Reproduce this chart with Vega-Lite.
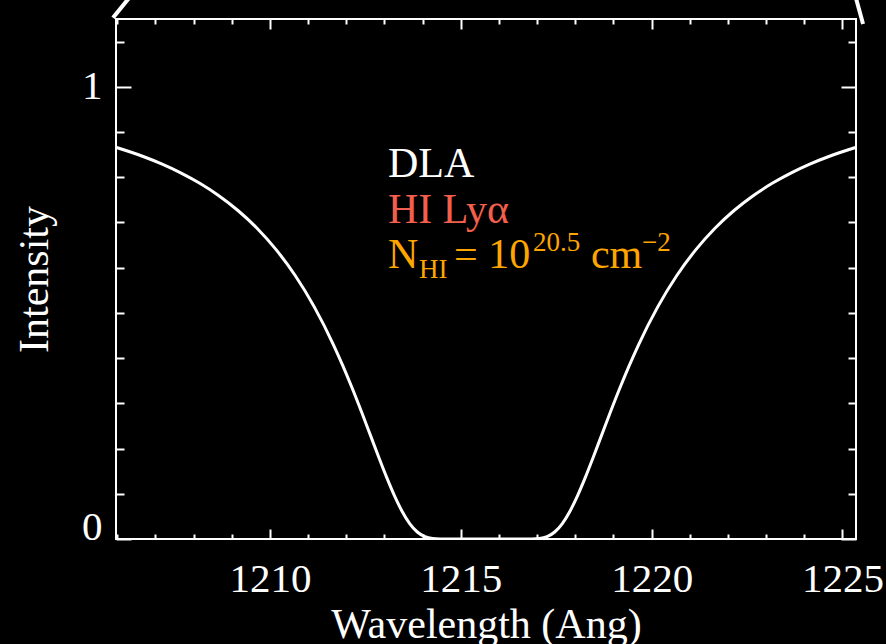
{
  "$schema": "https://vega.github.io/schema/vega-lite/v6.json",
  "width": 740,
  "height": 520,
  "autosize": {"type": "none"},
  "padding": {"left": 116, "top": 19, "right": 30, "bottom": 105},
  "background": "black",
  "config": {
    "view": {"stroke": "white", "strokeWidth": 2},
    "font": "Liberation Serif",
    "axis": {
      "domain": false, "grid": false,
      "labelColor": "white", "titleColor": "white", "tickColor": "white", "tickWidth": 2,
      "labelFont": "Liberation Serif", "titleFont": "Liberation Serif",
      "labelFontSize": 41, "titleFontSize": 42, "titleFontWeight": "normal",
      "labelOverlap": false
    },
    "text": {"font": "Liberation Serif", "align": "left", "baseline": "alphabetic"}
  },
  "datasets": {
    "profile": [
      {"wavelength": 1205.96, "intensity": 0.8663},
      {"wavelength": 1206.66, "intensity": 0.8465},
      {"wavelength": 1207.16, "intensity": 0.8296},
      {"wavelength": 1207.66, "intensity": 0.8098},
      {"wavelength": 1208.16, "intensity": 0.7866},
      {"wavelength": 1208.66, "intensity": 0.7592},
      {"wavelength": 1209.16, "intensity": 0.7265},
      {"wavelength": 1209.66, "intensity": 0.6873},
      {"wavelength": 1210.16, "intensity": 0.6400},
      {"wavelength": 1210.66, "intensity": 0.5827},
      {"wavelength": 1211.16, "intensity": 0.5134},
      {"wavelength": 1211.66, "intensity": 0.4301},
      {"wavelength": 1211.91, "intensity": 0.3829},
      {"wavelength": 1212.16, "intensity": 0.3322},
      {"wavelength": 1212.41, "intensity": 0.2786},
      {"wavelength": 1212.66, "intensity": 0.2231},
      {"wavelength": 1212.86, "intensity": 0.1787},
      {"wavelength": 1213.06, "intensity": 0.1357},
      {"wavelength": 1213.26, "intensity": 0.0960},
      {"wavelength": 1213.46, "intensity": 0.0615},
      {"wavelength": 1213.66, "intensity": 0.0342},
      {"wavelength": 1213.86, "intensity": 0.0155},
      {"wavelength": 1214.06, "intensity": 0.0051},
      {"wavelength": 1214.26, "intensity": 0.0010},
      {"wavelength": 1214.46, "intensity": 0.0001},
      {"wavelength": 1214.66, "intensity": 0.0},
      {"wavelength": 1215.16, "intensity": 0.0},
      {"wavelength": 1215.66, "intensity": 0.0},
      {"wavelength": 1216.16, "intensity": 0.0},
      {"wavelength": 1216.66, "intensity": 0.0},
      {"wavelength": 1216.86, "intensity": 0.0001},
      {"wavelength": 1217.06, "intensity": 0.0010},
      {"wavelength": 1217.26, "intensity": 0.0051},
      {"wavelength": 1217.46, "intensity": 0.0155},
      {"wavelength": 1217.66, "intensity": 0.0342},
      {"wavelength": 1217.86, "intensity": 0.0615},
      {"wavelength": 1218.06, "intensity": 0.0960},
      {"wavelength": 1218.26, "intensity": 0.1357},
      {"wavelength": 1218.46, "intensity": 0.1787},
      {"wavelength": 1218.66, "intensity": 0.2231},
      {"wavelength": 1218.91, "intensity": 0.2786},
      {"wavelength": 1219.16, "intensity": 0.3322},
      {"wavelength": 1219.41, "intensity": 0.3829},
      {"wavelength": 1219.66, "intensity": 0.4301},
      {"wavelength": 1220.16, "intensity": 0.5134},
      {"wavelength": 1220.66, "intensity": 0.5827},
      {"wavelength": 1221.16, "intensity": 0.6400},
      {"wavelength": 1221.66, "intensity": 0.6873},
      {"wavelength": 1222.16, "intensity": 0.7265},
      {"wavelength": 1222.66, "intensity": 0.7592},
      {"wavelength": 1223.16, "intensity": 0.7866},
      {"wavelength": 1223.66, "intensity": 0.8098},
      {"wavelength": 1224.16, "intensity": 0.8296},
      {"wavelength": 1224.66, "intensity": 0.8465},
      {"wavelength": 1225.36, "intensity": 0.8663}
    ],
    "connector": [
      {"side": "left", "wavelength": 1205.886, "intensity": 1.1527},
      {"side": "left", "wavelength": 1206.437, "intensity": 1.21},
      {"side": "right", "wavelength": 1225.54, "intensity": 1.139},
      {"side": "right", "wavelength": 1225.33, "intensity": 1.2035}
    ]
  },
  "layer": [
    {
      "data": {"name": "profile"},
      "mark": {"type": "line", "color": "white", "strokeWidth": 3, "interpolate": "monotone", "clip": true},
      "encoding": {
        "x": {
          "field": "wavelength", "type": "quantitative",
          "scale": {"domain": [1205.965, 1225.355], "nice": false, "zero": false},
          "axis": {
            "orient": "bottom", "title": "Wavelength (Ang)",
            "values": [1206,1207,1208,1209,1210,1211,1212,1213,1214,1215,1216,1217,1218,1219,1220,1221,1222,1223,1224,1225],
            "tickSize": {"condition": {"test": "datum.value % 5 === 0", "value": -10}, "value": -5},
            "labelExpr": "datum.value % 5 === 0 ? datum.label : ''",
            "format": "d",
            "labelPadding": 30, "labelFlush": false, "titlePadding": 0
          }
        },
        "y": {
          "field": "intensity", "type": "quantitative",
          "scale": {"domain": [0, 1.15], "nice": false},
          "axis": {
            "orient": "left", "title": "Intensity",
            "values": [0,0.1,0.2,0.3,0.4,0.5,0.6,0.7,0.8,0.9,1,1.1],
            "tickSize": {"condition": {"test": "datum.value === 0 || datum.value === 1", "value": -15}, "value": -8},
            "labelExpr": "datum.value === 0 ? '0' : (datum.value === 1 ? '1' : '')",
            "labelBaseline": {"condition": {"test": "datum.value === 0", "value": "alphabetic"}, "value": "middle"},
            "labelPadding": 29, "labelFlush": false, "titlePadding": 25
          }
        }
      }
    },
    {
      "data": {"name": "connector"},
      "mark": {"type": "line", "color": "white", "strokeWidth": 4, "clip": false},
      "encoding": {
        "x": {
          "field": "wavelength", "type": "quantitative",
          "axis": {
            "orient": "top", "title": null, "labels": false,
            "values": [1206,1207,1208,1209,1210,1211,1212,1213,1214,1215,1216,1217,1218,1219,1220,1221,1222,1223,1224,1225],
            "tickSize": {"condition": {"test": "datum.value % 5 === 0", "value": -10}, "value": -5}
          }
        },
        "y": {
          "field": "intensity", "type": "quantitative",
          "axis": {
            "orient": "right", "title": null, "labels": false,
            "values": [0,0.1,0.2,0.3,0.4,0.5,0.6,0.7,0.8,0.9,1,1.1],
            "tickSize": {"condition": {"test": "datum.value === 0 || datum.value === 1", "value": -15}, "value": -8}
          }
        },
        "detail": {"field": "side", "type": "nominal"}
      }
    },
    {
      "data": {"values": [{"label": "DLA"}]},
      "mark": {"type": "text", "color": "white", "fontSize": 42},
      "encoding": {
        "x": {"datum": 1213.09, "type": "quantitative", "axis": null},
        "y": {"datum": 0.801, "type": "quantitative", "axis": null},
        "text": {"field": "label"}
      }
    },
    {
      "data": {"values": [{"label": "HI Lyα"}]},
      "mark": {"type": "text", "color": "#F25F4C", "fontSize": 42},
      "encoding": {
        "x": {"datum": 1213.09, "type": "quantitative", "axis": null},
        "y": {"datum": 0.699, "type": "quantitative", "axis": null},
        "text": {"field": "label"}
      }
    },
    {
      "data": {"values": [{"label": "N"}, {"label": "= 10"}, {"label": "cm"}]},
      "mark": {"type": "text", "color": "#FFA500", "fontSize": 42},
      "encoding": {
        "x": {"field": "pos", "type": "quantitative", "axis": null},
        "y": {"datum": 0.5996, "type": "quantitative", "axis": null},
        "text": {"field": "label"}
      },
      "transform": [{"lookup": "label", "from": {"data": {"values": [{"label": "N", "pos": 1213.09}, {"label": "= 10", "pos": 1214.82}, {"label": "cm", "pos": 1218.41}]}, "key": "label", "fields": ["pos"]}}]
    },
    {
      "data": {"values": [{"label": "HI"}]},
      "mark": {"type": "text", "color": "#FFA500", "fontSize": 27},
      "encoding": {
        "x": {"datum": 1213.903, "type": "quantitative", "axis": null},
        "y": {"datum": 0.5774, "type": "quantitative", "axis": null},
        "text": {"field": "label"}
      }
    },
    {
      "data": {"values": [{"label": "20.5", "pos": 1216.89}, {"label": "−2", "pos": 1219.745}]},
      "mark": {"type": "text", "color": "#FFA500", "fontSize": 27},
      "encoding": {
        "x": {"field": "pos", "type": "quantitative", "axis": null},
        "y": {"datum": 0.6372, "type": "quantitative", "axis": null},
        "text": {"field": "label"}
      }
    }
  ],
  "resolve": {"axis": {"x": "independent", "y": "independent"}}
}
